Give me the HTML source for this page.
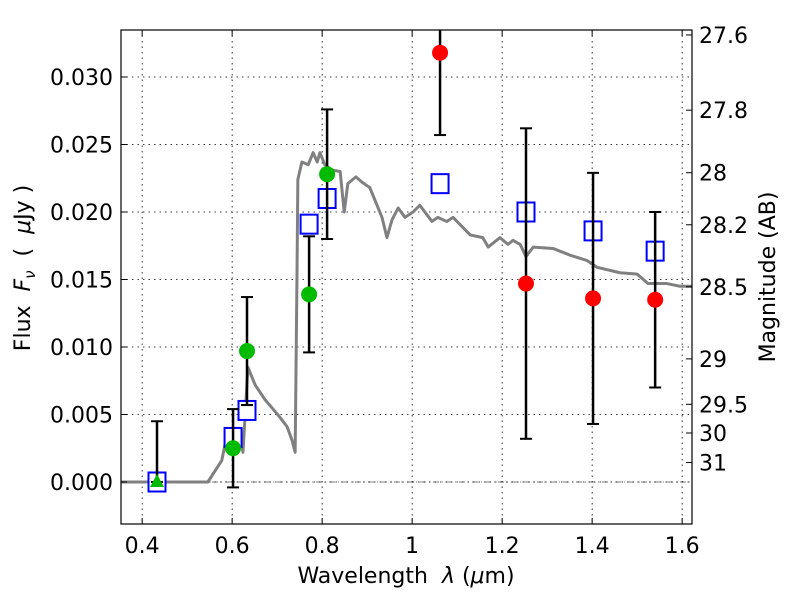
<!DOCTYPE html>
<html><head><meta charset="utf-8"><style>
body{margin:0;background:#fff;}
svg{font-family:"DejaVu Sans","Liberation Sans",sans-serif;}
text{white-space:pre;}
</style></head><body>
<svg id="chart" width="800" height="600" viewBox="0 0 800 600" xmlns="http://www.w3.org/2000/svg">
<rect width="800" height="600" fill="#fff"/>
<g id="grid"></g>
<g id="line"></g>
<g id="marks"></g>
<rect x="121" y="30" width="571" height="494" fill="none" stroke="#000" stroke-width="1.2"/>
<g id="axes"></g>
<text x="406" y="583" font-size="22" text-anchor="middle" xml:space="preserve">Wavelength  <tspan font-style="italic">λ</tspan> (<tspan font-style="italic">μ</tspan>m)</text>
<text transform="translate(30,268) rotate(-90)" font-size="22" text-anchor="middle" xml:space="preserve">Flux  <tspan font-style="italic">F</tspan><tspan font-style="italic" font-size="15" dy="5">ν</tspan><tspan dy="-5">  (  </tspan><tspan font-style="italic">μ</tspan>Jy )</text>
<text transform="translate(775,277) rotate(-90)" font-size="22" text-anchor="middle">Magnitude (AB)</text>
</svg>
<script>
const xTicks=[0.4,0.6,0.8,1.0,1.2,1.4,1.6];
const xTickLabels=["0.4","0.6","0.8","1","1.2","1.4","1.6"];
const yTicks=[0,0.005,0.010,0.015,0.020,0.025,0.030];
const yTickLabels=["0.000","0.005","0.010","0.015","0.020","0.025","0.030"];
const magTicks=[27.6,27.8,28,28.2,28.5,29,29.5,30,31];
const magTickLabels=["27.6","27.8","28","28.2","28.5","29","29.5","30","31"];
const sedLam=[0.353,0.546,0.577,0.586,0.595,0.604,0.617,0.624,0.635,0.651,0.673,0.706,0.722,0.733,0.740,0.744,0.746,0.755,0.769,0.780,0.789,0.795,0.806,0.822,0.840,0.849,0.857,0.875,0.889,0.906,0.917,0.933,0.944,0.955,0.969,0.984,1.002,1.017,1.044,1.057,1.077,1.091,1.129,1.157,1.169,1.195,1.213,1.224,1.240,1.253,1.269,1.313,1.351,1.389,1.411,1.462,1.500,1.524,1.566,1.595,1.622];
const sedFlux=[0,0,0.0016,0.0031,0.0022,0.0039,0.0037,0.0022,0.0085,0.0072,0.0061,0.0048,0.0041,0.0031,0.0022,0.0150,0.0224,0.0237,0.0235,0.0244,0.0237,0.0244,0.0235,0.0231,0.0230,0.0200,0.0221,0.0226,0.0222,0.0218,0.0209,0.0196,0.0181,0.0194,0.0203,0.0196,0.0200,0.0205,0.0193,0.0196,0.0193,0.0196,0.0183,0.0181,0.0174,0.0181,0.0176,0.0179,0.0176,0.0167,0.0174,0.0173,0.0168,0.0164,0.0159,0.0155,0.0154,0.0147,0.0147,0.0145,0.0145];
const modelLam=[0.433,0.602,0.633,0.771,0.811,1.062,1.253,1.402,1.540];
const modelFlux=[0.0,0.0033,0.0053,0.0191,0.0210,0.0221,0.0200,0.0186,0.0171];
const obsLam=[0.602,0.633,0.771,0.811];
const obsFlux=[0.0025,0.0097,0.0139,0.0228];
const obsErr=[0.0029,0.0040,0.0043,0.0048];
const limLam=[0.433];
const limFlux=[0.0];
const limErr=[0.0045];
const nirLam=[1.062,1.253,1.402,1.540];
const nirFlux=[0.0318,0.0147,0.0136,0.0135];
const nirErr=[0.0061,0.0115,0.0093,0.0065];

const NS="http://www.w3.org/2000/svg";
const X0=121,X1=692,Y0=30,Y1=524;
const xs=l=>X0+(l-0.353)*450;
const ys=f=>482-f*13500;
const clampY=y=>Math.max(Y0,Math.min(Y1,y));
function mk(parent,tag,attrs){const e=document.createElementNS(NS,tag);for(const k in attrs)e.setAttribute(k,attrs[k]);parent.appendChild(e);return e;}
const grid=document.getElementById('grid'),axes=document.getElementById('axes');
xTicks.forEach((t,i)=>{
  const x=xs(t);
  const g=mk(grid,'line',{x1:x,x2:x,y1:Y0,y2:Y1,stroke:'#000','stroke-width':0.8,'stroke-dasharray':'1.5,4'});
  
  
  mk(axes,'line',{x1:x,x2:x,y1:Y1,y2:Y1-6,stroke:'#000'});
  mk(axes,'line',{x1:x,x2:x,y1:Y0,y2:Y0+6,stroke:'#000'});
  const tx=mk(axes,'text',{x:x,y:553,'font-size':22,'text-anchor':'middle'});
  tx.textContent=xTickLabels[i];
  
  
});
yTicks.forEach((t,i)=>{
  const y=ys(t);
  const g=mk(grid,'line',{x1:X0,x2:X1,y1:y,y2:y,stroke:'#000','stroke-width':0.8,'stroke-dasharray':'1.5,4'});
  
  
  mk(axes,'line',{x1:X0,x2:X0+6,y1:y,y2:y,stroke:'#000'});
  const tx=mk(axes,'text',{x:113,y:y+8,'font-size':22,'text-anchor':'end'});
  tx.textContent=yTickLabels[i];
  
  
});
magTicks.forEach((m,i)=>{
  const y=ys(Math.pow(10,(23.9-m)/2.5));
  mk(axes,'line',{x1:X1,x2:X1-6,y1:y,y2:y,stroke:'#000'});
  const tx=mk(axes,'text',{x:699,y:y+8,'font-size':22,'text-anchor':'start'});
  tx.textContent=magTickLabels[i];
  
  
});
const zl=mk(grid,'line',{x1:X0,x2:X1,y1:ys(0),y2:ys(0),stroke:'#000','stroke-width':0.6,'stroke-dasharray':'6,3,1,3'});


const lineG=document.getElementById('line');
const p=mk(lineG,'polyline',{points:sedLam.map((l,i)=>xs(l)+','+ys(sedFlux[i])).join(' '),fill:'none',stroke:'#808080','stroke-width':3,'stroke-linejoin':'round'});


const marks=document.getElementById('marks');
function errbar(l,f,e){
  const x=xs(l),yt=ys(f+e),yb=ys(f-e);
  mk(marks,'line',{x1:x,x2:x,y1:clampY(yt),y2:clampY(yb),stroke:'#000','stroke-width':2.5});
  if(yt>=Y0)mk(marks,'line',{x1:x-6,x2:x+6,y1:yt,y2:yt,stroke:'#000','stroke-width':2});
  if(yb<=Y1)mk(marks,'line',{x1:x-6,x2:x+6,y1:yb,y2:yb,stroke:'#000','stroke-width':2});
}
modelLam.forEach((l,i)=>{
  const s=mk(marks,'rect',{x:xs(l)-8.5,y:ys(modelFlux[i])-9.5,width:17,height:19,fill:'#fff',stroke:'#0000ff','stroke-width':2});
  
  
});
limLam.forEach((l,i)=>{
  errbar(l,limFlux[i]+limErr[i]/2,limErr[i]/2);
  const x=xs(l),y=ys(limFlux[i]);
  const t=mk(marks,'polygon',{points:`${x},${y-8} ${x-7},${y+5} ${x+7},${y+5}`,fill:'#00bb00'});
  
  
});
obsLam.forEach((l,i)=>{
  errbar(l,obsFlux[i],obsErr[i]);
  const c=mk(marks,'circle',{cx:xs(l),cy:ys(obsFlux[i]),r:8,fill:'#00bb00'});
  
  
});
nirLam.forEach((l,i)=>{
  errbar(l,nirFlux[i],nirErr[i]);
  const c=mk(marks,'circle',{cx:xs(l),cy:ys(nirFlux[i]),r:8,fill:'#ff0000'});
  
  
});
</script>
</body></html>
